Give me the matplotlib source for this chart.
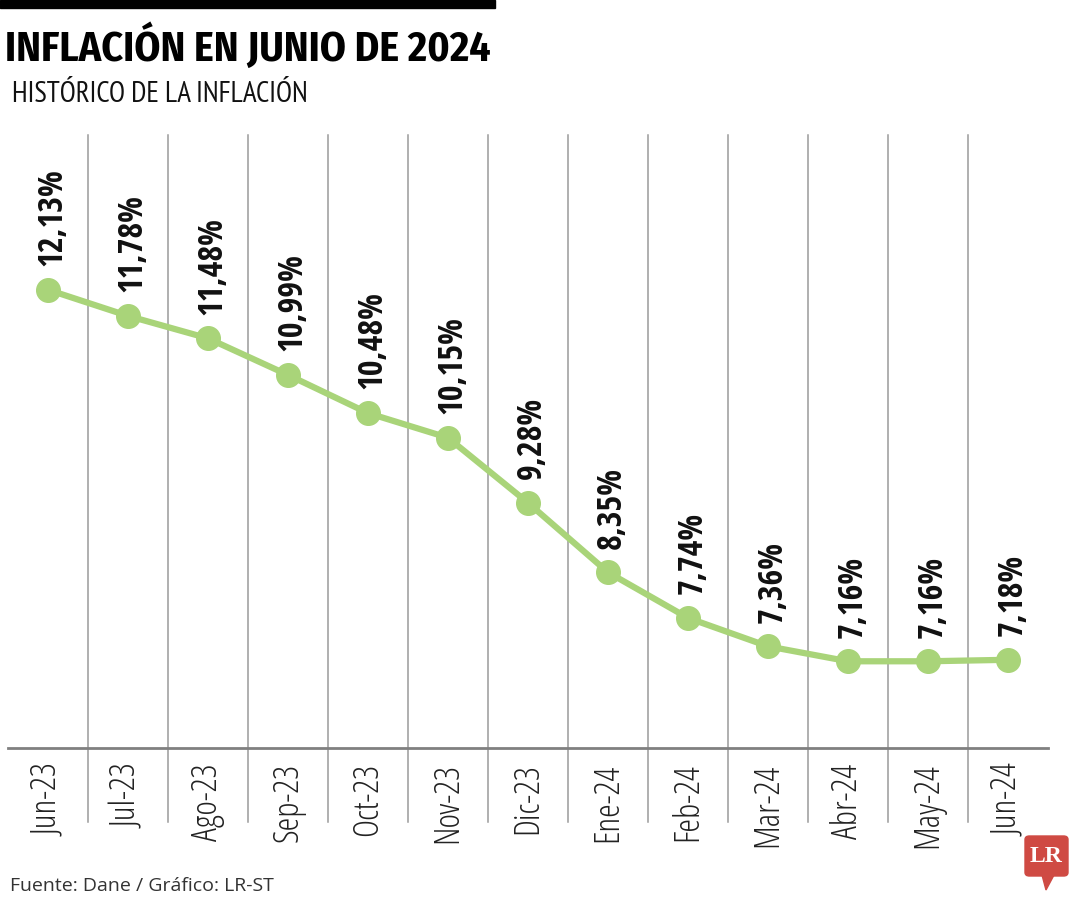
import matplotlib.pyplot as plt
from matplotlib.patches import FancyBboxPatch, Polygon

# Data
months = ["Jun-23", "Jul-23", "Ago-23", "Sep-23", "Oct-23", "Nov-23", "Dic-23",
          "Ene-24", "Feb-24", "Mar-24", "Abr-24", "May-24", "Jun-24"]
inflation = [12.13, 11.78, 11.48, 10.99, 10.48, 10.15, 9.28,
             8.35, 7.74, 7.36, 7.16, 7.16, 7.18]

GREEN = "#a9d479"
COND = ["Open Sans Condensed", "DejaVu Sans"]

fig = plt.figure(figsize=(10.8, 9), dpi=100)
ax = fig.add_axes([8 / 1080, 152 / 900, 1040 / 1080, 613 / 900])

x = list(range(len(months)))
ax.plot(x, inflation, color=GREEN, lw=4.5, marker="o", ms=17, zorder=3)

for xi, v in zip(x, inflation):
    ax.annotate(f"{v:.2f}%".replace(".", ","), (xi, v), xytext=(3, 17),
                textcoords="offset points", rotation=90, ha="center", va="bottom",
                fontsize=24.5, fontweight=700, family=COND, color="#111111")

# vertical separators between months, running down through the labels
for b in range(len(months) - 1):
    ax.axvline(b + 0.5, ymin=-0.12, ymax=1, color="#9a9a9a", lw=1.1,
               clip_on=False, zorder=1)

ax.set_xlim(-0.5, len(months) - 0.5)
ax.set_ylim(6.0, 14.2)
ax.set_xticks(x)
ax.set_xticklabels(months, rotation=90, va="top", ha="center", fontsize=25,
                   fontweight=300, fontstretch="condensed",
                   family=["Open Sans", "DejaVu Sans"], color="#222222")
ax.tick_params(axis="x", length=0, pad=11)
ax.set_yticks([])
for side in ["top", "left", "right"]:
    ax.spines[side].set_visible(False)
ax.spines["bottom"].set_color("#808080")
ax.spines["bottom"].set_linewidth(2)

# header
fig.patches.append(plt.Rectangle((0, 1 - 8 / 900), 495 / 1080, 8 / 900,
                                 transform=fig.transFigure, color="black"))
fig.text(5 / 1080, 1 - 47 / 900, "INFLACIÓN EN JUNIO DE 2024", fontsize=30,
         fontweight="bold", family=["Fira Sans Condensed", "DejaVu Sans"], va="center")
fig.text(12 / 1080, 1 - 94 / 900, "HISTÓRICO DE LA INFLACIÓN", fontsize=21,
         family=["PT Sans Narrow", "DejaVu Sans"], va="center", color="#111111")
fig.text(10 / 1080, 1 - 886 / 900, "Fuente: Dane / Gráfico: LR-ST", fontsize=14,
         family=["Open Sans", "DejaVu Sans"], va="center", color="#333333")

# LR logo
red = "#cf4a43"
fig.patches.append(FancyBboxPatch((1025 / 1080, 1 - 876 / 900), 43 / 1080, 40 / 900,
                                  boxstyle="round,pad=0,rounding_size=0.004",
                                  transform=fig.transFigure, color=red))
fig.patches.append(Polygon([(1042 / 1080, 1 - 875 / 900), (1054 / 1080, 1 - 875 / 900),
                            (1046 / 1080, 1 - 890 / 900)],
                           transform=fig.transFigure, color=red))
fig.text(1046.5 / 1080, 1 - 857 / 900, "LR", fontsize=17, fontweight="bold",
         family=["Liberation Serif", "DejaVu Serif"], color="white",
         ha="center", va="center")

fig.savefig("out.png", dpi=100, facecolor="white")
